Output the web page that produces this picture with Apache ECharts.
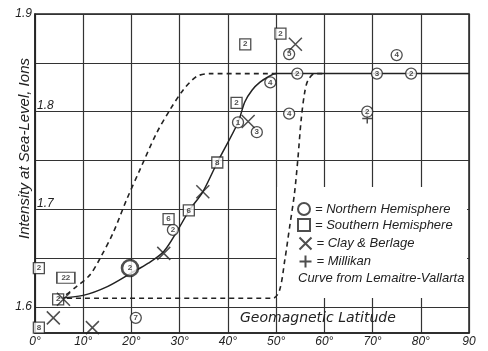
<!DOCTYPE html>
<html>
<head>
<meta charset="utf-8">
<script src="https://cdn.jsdelivr.net/npm/echarts@6/dist/echarts.min.js"></script>
<style>html,body{margin:0;padding:0;background:#fff}#c{width:488px;height:351px}</style>
</head>
<body>
<div id="c"></div>
<script>
// ---- data ----
const latTicks = [0, 10, 20, 30, 40, 50, 60, 70, 80, 90];
const intensityGrid = [1.6, 1.65, 1.7, 1.75, 1.8, 1.85, 1.9];
const intensityLabelsOuter = [1.6, 1.9];
const intensityLabelsInner = [1.7, 1.8];

const northLat = [52.7, 54.4, 48.8, 42.1, 46.0, 52.7, 75.0, 70.9, 78.0, 68.9, 28.6, 19.7, 20.9];
const northInt = [1.859, 1.839, 1.830, 1.789, 1.779, 1.798, 1.858, 1.839, 1.839, 1.800, 1.679, 1.640, 1.589];
const northN   = ['5', '2', '4', '1', '3', '4', '4', '3', '2', '2', '2', '2', '7'];

const southLat = [43.6, 50.9, 41.8, 37.8, 31.9, 27.7, 0.8, 6.4, 4.8, 0.8];
const southInt = [1.869, 1.880, 1.809, 1.748, 1.699, 1.690, 1.640, 1.630, 1.608, 1.579];
const southN   = ['2', '2', '2', '8', '6', '6', '2', '22', '2', '8'];

const clayLat = [54.0, 44.2, 34.8, 26.7, 5.9, 3.8, 11.9];
const clayInt = [1.869, 1.790, 1.718, 1.655, 1.608, 1.589, 1.579];

const millikanLat = [68.9];
const millikanInt = [1.793];

const curveLat = [4.8, 10, 15, 20, 23.5, 26.7, 29.5, 32, 34.8, 37.8, 42.1, 43.5, 45, 46.6, 48.5, 50, 90];
const curveInt = [1.609, 1.612, 1.621, 1.635, 1.645, 1.657, 1.678, 1.699, 1.718, 1.748, 1.789, 1.810, 1.822, 1.830, 1.836, 1.839, 1.839];

const dashLowLat = [4.8, 5.9, 8.6, 11.4, 13.5, 16.2, 19.0, 21.7, 25.2, 28.0, 30.7, 33.5, 36.2, 50];
const dashLowInt = [1.609, 1.611, 1.621, 1.633, 1.650, 1.676, 1.710, 1.740, 1.778, 1.802, 1.822, 1.836, 1.839, 1.839];

const dashHighLat = [4.8, 49.3, 50.7, 51.8, 52.8, 53.8, 54.5, 55.2, 55.9, 56.6, 58.0, 60.0];
const dashHighInt = [1.609, 1.609, 1.617, 1.648, 1.682, 1.716, 1.751, 1.792, 1.819, 1.832, 1.839, 1.839];

const legendNames = ['Northern Hemisphere', 'Southern Hemisphere', 'Clay & Berlage', 'Millikan'];

// ---- build ----
const FONT = 'Liberation Sans';
const INK = '#222';
const zip = (a, b) => a.map((v, i) => [v, b[i]]);

const northData = northLat.map((x, i) => {
  const item = { value: [x, northInt[i]], label: { formatter: northN[i] } };
  if (x === 19.7) { item.symbolSize = 16; item.itemStyle = { borderWidth: 2.6 }; }
  return item;
});
const southData = southLat.map((x, i) => ({
  value: [x, southInt[i]],
  symbolSize: southN[i].length > 1 ? [18, 11] : 11,
  label: { formatter: southN[i] }
}));

const markLabel = { show: true, position: 'inside', fontSize: 8, fontWeight: 'bold', color: INK, fontFamily: FONT };
const legendTops = [202, 218, 235, 253];

const option = {
  animation: false,
  backgroundColor: '#fff',
  grid: { left: 35, right: 19, top: 14, bottom: 18, outerBoundsMode: 'none', containLabel: false,
          show: true, borderColor: INK, borderWidth: 1.5, backgroundColor: 'transparent' },
  xAxis: {
    type: 'value', min: 0, max: 90, interval: 10,
    axisLine: { lineStyle: { color: INK, width: 1.5 } },
    axisTick: { show: false },
    splitLine: { lineStyle: { color: '#333', width: 1.2 } },
    axisLabel: {
      formatter: v => (v === 90 ? '90' : v + '°'),
      fontStyle: 'italic', fontSize: 12, color: INK, margin: 3, fontFamily: FONT
    },
    name: 'Geomagnetic Latitude',
    nameLocation: 'end', nameGap: -229, nameMoveOverlap: false,
    nameTextStyle: { fontSize: 14, fontStyle: 'italic', color: INK, fontFamily: 'DejaVu Sans', align: 'left', verticalAlign: 'bottom', padding: [0, 0, 8, 0] }
  },
  yAxis: [{
    type: 'value', min: 1.5735, max: 1.9,
    axisLine: { show: true, lineStyle: { color: INK, width: 1.5 } },
    axisTick: { show: false, customValues: intensityGrid },
    splitLine: { show: true, lineStyle: { color: '#333', width: 1.2 } },
    axisLabel: { customValues: intensityLabelsOuter, fontStyle: 'italic', fontSize: 12, color: INK, margin: 3, fontFamily: FONT, formatter: v => v.toFixed(1) },
    name: 'Intensity at Sea-Level, Ions',
    nameLocation: 'middle', nameGap: 3, nameRotate: 90, nameMoveOverlap: false,
    nameTextStyle: { fontSize: 15, fontStyle: 'italic', color: INK, fontFamily: FONT, padding: [0, 0, 0, 50] }
  }, {
    type: 'value', min: 1.5735, max: 1.9, position: 'left',
    axisLine: { show: false }, axisTick: { show: false }, splitLine: { show: false },
    axisLabel: { inside: true, customValues: intensityLabelsInner, verticalAlign: 'bottom', fontStyle: 'italic', fontSize: 12, color: INK, margin: 2, fontFamily: FONT, formatter: v => v.toFixed(1) }
  }],
  graphic: [{
    type: 'rect', z: 1, silent: true,
    shape: { x: 277, y: 187, width: 190, height: 111 },
    style: { fill: '#fff' }
  }],
  title: {
    text: 'Curve from Lemaitre-Vallarta', left: 298, top: 272, padding: 0,
    textStyle: { fontSize: 13, fontStyle: 'italic', fontWeight: 'normal', color: INK, fontFamily: FONT }
  },
  legend: legendNames.map((n, i) => ({
    orient: 'vertical', left: 297, top: legendTops[i], padding: 0,
    itemWidth: 12, itemHeight: 12, itemGap: 0, selectedMode: false,
    data: [n],
    formatter: s => '= ' + s,
    textStyle: { fontSize: 13, fontStyle: 'italic', color: INK, fontFamily: FONT }
  })),
  series: [
    { type: 'line', name: 'curve', data: zip(curveLat, curveInt), smooth: 0.3, symbol: 'none', lineStyle: { color: INK, width: 1.5 }, z: 3 },
    { type: 'line', name: 'dashLow', data: zip(dashLowLat, dashLowInt), smooth: 0.3, symbol: 'none', lineStyle: { color: INK, width: 1.6, type: [5, 4] }, z: 3 },
    { type: 'line', name: 'dashHigh', data: zip(dashHighLat, dashHighInt), smooth: 0.3, symbol: 'none', lineStyle: { color: INK, width: 1.6, type: [5, 4] }, z: 3 },
    { type: 'scatter', name: legendNames[0], data: northData, symbol: 'circle', symbolSize: 11,
      itemStyle: { color: '#fff', borderColor: INK, borderWidth: 1.3 }, label: markLabel, z: 5 },
    { type: 'scatter', name: legendNames[1], data: southData, symbol: 'rect',
      itemStyle: { color: '#fff', borderColor: INK, borderWidth: 1.3 }, label: markLabel, z: 5 },
    { type: 'scatter', name: legendNames[2], data: zip(clayLat, clayInt), symbol: 'path://M0,0L10,10M10,0L0,10', symbolSize: 13,
      itemStyle: { color: 'none', borderColor: INK, borderWidth: 1.5 }, z: 6 },
    { type: 'scatter', name: legendNames[3], data: zip(millikanLat, millikanInt), symbol: 'path://M5,0L5,10M0,5L10,5', symbolSize: 10,
      itemStyle: { color: 'none', borderColor: INK, borderWidth: 1.5 }, z: 4 }
  ]
};

const chart = echarts.init(document.getElementById('c'), null, { renderer: 'canvas' });
chart.setOption(option);
</script>
</body>
</html>
